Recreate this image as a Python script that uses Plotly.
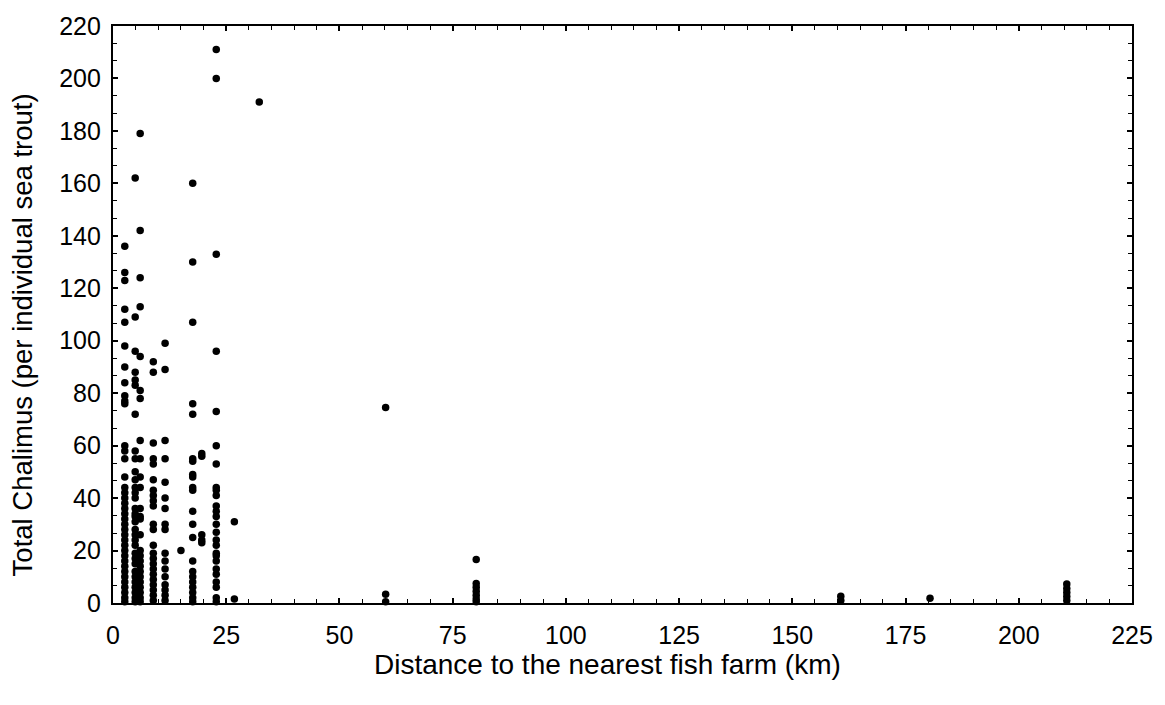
import plotly.graph_objects as go

# --- Data (distance km, total chalimus per fish) ---
site_x = [2.6, 4.9, 6.0, 8.9, 11.5, 15.0, 17.6, 19.6, 22.8, 26.8, 32.3, 60.2, 80.2, 160.7, 180.4, 210.6]

y_2_6 = [136, 126, 123, 112, 107, 98, 90, 84, 79, 77, 76, 60, 58, 55, 48, 44, 42, 40, 38, 36,
         34, 32, 30, 28, 26, 24, 22, 20, 18, 16, 14, 12, 10, 8, 6, 4, 2, 0.5]
y_4_9 = [162, 109, 96, 88, 85, 83, 72, 58, 55, 50, 47, 44, 42, 40, 36, 34, 33, 31, 28, 26,
         24, 22, 19, 17, 15, 12, 10, 8, 6, 4, 2, 0.5]
y_6_0 = [179, 142, 124, 113, 94, 81, 78, 62, 55, 48, 44, 36, 33, 32, 26, 20, 18, 16, 14, 12,
         10, 8, 6, 4, 2, 0.5]
y_8_9 = [92, 88, 61, 55, 53, 47, 43, 41, 39, 37, 30, 28, 22, 19, 17, 15, 13, 11, 9, 7, 5, 3, 1]
y_11_5 = [99, 89, 62, 55, 46, 40, 36, 30, 28, 19, 16, 13, 10, 7, 5, 3, 1]
y_15_0 = [20]
y_17_6 = [160, 130, 107, 76, 72, 55, 54, 49, 48, 44, 43, 35, 30, 25, 16, 12, 10, 8, 6, 4, 2, 0.5]
y_19_6 = [57, 56, 26, 24, 23]
y_22_8 = [211, 200, 133, 96, 73, 60, 53, 44, 43, 41, 37, 35, 33, 30, 27, 24, 22, 19, 18, 16,
          13, 11, 8, 6, 2, 0.5]
y_26_8 = [31, 1.5]
y_32_3 = [191]
y_60_2 = [74.5, 3.3, 0.5]
y_80_2 = [16.6, 7.4, 6, 4.5, 3, 1.5, 0.5]
y_160_7 = [2.6, 1]
y_180_4 = [1.8]
y_210_6 = [7.2, 5.5, 4, 2.5, 1]

site_y = [y_2_6, y_4_9, y_6_0, y_8_9, y_11_5, y_15_0, y_17_6, y_19_6, y_22_8, y_26_8,
          y_32_3, y_60_2, y_80_2, y_160_7, y_180_4, y_210_6]

x_ticks = [0, 25, 50, 75, 100, 125, 150, 175, 200, 225]
y_ticks = [0, 20, 40, 60, 80, 100, 120, 140, 160, 180, 200, 220]

x_title = "Distance to the nearest fish farm (km)"
y_title = "Total Chalimus (per individual sea trout)"

xs, ys = [], []
for sx, yl in zip(site_x, site_y):
    for v in yl:
        xs.append(sx)
        ys.append(v)

fig = go.Figure()
fig.add_trace(go.Scatter(
    x=xs, y=ys, mode="markers",
    marker=dict(color="black", size=7.5, line=dict(width=0)),
    cliponaxis=False, showlegend=False,
))

FONT = "Liberation Sans, Arial, Helvetica, sans-serif"
axis_common = dict(
    showline=True, linecolor="black", linewidth=2.2, mirror="ticks",
    ticks="inside", ticklen=5, tickwidth=1.5, tickcolor="black",
    showgrid=False, zeroline=False,
    tickfont=dict(family=FONT, size=25, color="black"),
)

fig.update_xaxes(
    range=[0, 225], tickvals=x_ticks, ticktext=[str(t) for t in x_ticks],
    minor=dict(dtick=5, tick0=0, ticks="inside", ticklen=4, tickcolor="black", tickwidth=1.2),
    ticklabelstandoff=9,
    **axis_common,
)
fig.update_yaxes(
    range=[0, 220], tickvals=y_ticks, ticktext=[str(t) for t in y_ticks],
    minor=dict(dtick=20 / 3, tick0=0, ticks="inside", ticklen=4, tickcolor="black", tickwidth=1.2),
    ticklabelstandoff=5,
    **axis_common,
)

fig.add_annotation(
    text=x_title, xref="paper", yref="paper", x=0.485, y=-0.106,
    xanchor="center", yanchor="middle", showarrow=False, borderpad=0,
    font=dict(family=FONT, size=28, color="black"),
)
fig.add_annotation(
    text=y_title, xref="paper", yref="paper", x=-0.0893, y=0.4638,
    xanchor="center", yanchor="middle", showarrow=False, textangle=-90,
    font=dict(family=FONT, size=27.5, color="black"),
)

fig.update_layout(
    width=1165, height=705,
    margin=dict(l=113, r=33, t=23, b=102),
    paper_bgcolor="white", plot_bgcolor="white",
    font=dict(family=FONT, color="black"),
)

fig.write_html("out.html")
